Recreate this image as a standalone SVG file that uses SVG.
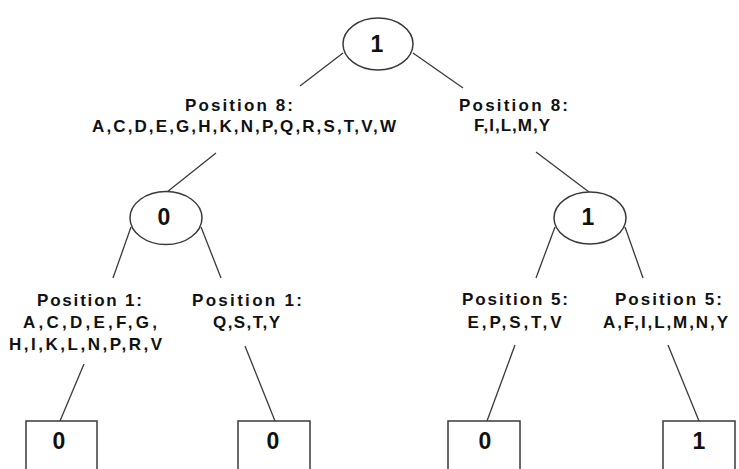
<svg xmlns="http://www.w3.org/2000/svg" width="739" height="469" viewBox="0 0 739 469">
  <style>
    .edge { stroke: #3a3a3a; stroke-width: 1.3; fill: none; }
    .node { stroke: #3a3a3a; stroke-width: 1.5; fill: #ffffff; }
    .val { font-family: "Liberation Sans", Arial, sans-serif; font-weight: bold; font-size: 23px; fill: #111111; text-anchor: middle; }
    .lbl { font-family: "Liberation Sans", Arial, sans-serif; font-weight: bold; font-size: 17px; fill: #111111; text-anchor: middle; }
  </style>
  <rect width="739" height="469" fill="#ffffff"/>

  <!-- connectors -->
  <g id="connectors">
    <line class="edge" x1="343" y1="53" x2="300" y2="86"/>
    <line class="edge" x1="413" y1="53" x2="463" y2="88"/>
    <line class="edge" x1="216" y1="153" x2="167" y2="192"/>
    <line class="edge" x1="536" y1="152" x2="589" y2="192"/>
    <line class="edge" x1="131" y1="227" x2="113" y2="278"/>
    <line class="edge" x1="201" y1="227" x2="221" y2="278"/>
    <line class="edge" x1="555" y1="227" x2="536" y2="278"/>
    <line class="edge" x1="625" y1="227" x2="643" y2="278"/>
    <line class="edge" x1="84" y1="364" x2="60" y2="421"/>
    <line class="edge" x1="245" y1="346" x2="275" y2="421"/>
    <line class="edge" x1="515" y1="345" x2="487" y2="421"/>
    <line class="edge" x1="668" y1="345" x2="699" y2="421"/>
  </g>

  <!-- split nodes -->
  <g id="root">
    <ellipse class="node" cx="378" cy="44" rx="35" ry="26"/>
    <text class="val" x="377" y="52">1</text>
  </g>
  <g id="split-left">
    <ellipse class="node" cx="166" cy="218" rx="36" ry="26.5"/>
    <text class="val" x="164" y="225">0</text>
  </g>
  <g id="split-right">
    <ellipse class="node" cx="590" cy="218" rx="36" ry="26"/>
    <text class="val" x="588" y="225">1</text>
  </g>

  <!-- branch labels -->
  <g id="label-root-left">
    <text class="lbl" x="239" y="111" textLength="108" lengthAdjust="spacing">Position 8:</text>
    <text class="lbl" x="244" y="132" textLength="304" lengthAdjust="spacing">A,C,D,E,G,H,K,N,P,Q,R,S,T,V,W</text>
  </g>
  <g id="label-root-right">
    <text class="lbl" x="513.5" y="111" textLength="109" lengthAdjust="spacing">Position 8:</text>
    <text class="lbl" x="512" y="131" textLength="76" lengthAdjust="spacing">F,I,L,M,Y</text>
  </g>
  <g id="label-left-left">
    <text class="lbl" x="89.5" y="306" textLength="105" lengthAdjust="spacing">Position 1:</text>
    <text class="lbl" x="90" y="328" textLength="134" lengthAdjust="spacing">A,C,D,E,F,G,</text>
    <text class="lbl" x="85.5" y="350" textLength="153" lengthAdjust="spacing">H,I,K,L,N,P,R,V</text>
  </g>
  <g id="label-left-right">
    <text class="lbl" x="247" y="306" textLength="110" lengthAdjust="spacing">Position 1:</text>
    <text class="lbl" x="246.5" y="328" textLength="67" lengthAdjust="spacing">Q,S,T,Y</text>
  </g>
  <g id="label-right-left">
    <text class="lbl" x="515" y="305" textLength="106" lengthAdjust="spacing">Position 5:</text>
    <text class="lbl" x="514.5" y="328" textLength="94" lengthAdjust="spacing">E,P,S,T,V</text>
  </g>
  <g id="label-right-right">
    <text class="lbl" x="668.5" y="305" textLength="107" lengthAdjust="spacing">Position 5:</text>
    <text class="lbl" x="665.5" y="328" textLength="125" lengthAdjust="spacing">A,F,I,L,M,N,Y</text>
  </g>

  <!-- leaf nodes -->
  <g id="leaf-1">
    <rect class="node" x="26" y="421" width="71" height="60"/>
    <text class="val" x="59" y="449">0</text>
  </g>
  <g id="leaf-2">
    <rect class="node" x="238" y="421" width="72" height="60"/>
    <text class="val" x="273" y="449">0</text>
  </g>
  <g id="leaf-3">
    <rect class="node" x="448" y="421" width="72" height="60"/>
    <text class="val" x="485" y="449">0</text>
  </g>
  <g id="leaf-4">
    <rect class="node" x="663" y="421" width="72" height="60"/>
    <text class="val" x="699" y="449">1</text>
  </g>
</svg>
